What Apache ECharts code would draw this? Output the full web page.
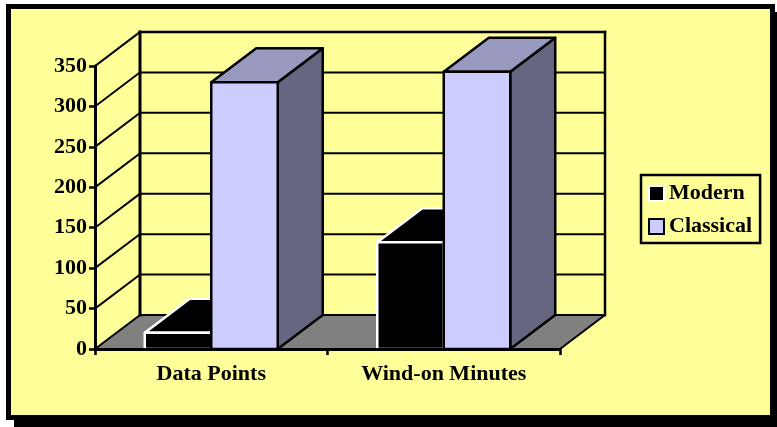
<!DOCTYPE html>
<html>
<head>
<meta charset="utf-8">
<style>html,body{margin:0;padding:0;background:#fff}#chart{width:777px;height:427px}</style>
<script src="https://cdn.jsdelivr.net/npm/echarts@6/dist/echarts.min.js"></script>
</head>
<body>
<div id="chart"></div>
<script>
const categories = ['Data Points', 'Wind-on Minutes'];
const modern = [20, 132];
const classical = [330, 343];
const gridValues = [50, 100, 150, 200, 250, 300, 350];

// Oblique projection of the chart's depth, in pixels
const DEPTH_X = 45;
const DEPTH_Y = -34;
const BAR_BAND = 0.286;

const INK = '#000';
const PAPER = '#FFFF99';
const serif = '"Liberation Serif", "Times New Roman", serif';

const chart = echarts.init(document.getElementById('chart'));

function line(x1, y1, x2, y2, width) {
  return {
    type: 'line',
    shape: { x1, y1, x2, y2 },
    style: { stroke: INK, lineWidth: width, lineCap: 'square' }
  };
}

function poly(points, fill, stroke, width) {
  return {
    type: 'polygon',
    shape: { points },
    style: { fill, stroke, lineWidth: width, lineJoin: 'round' }
  };
}

// Floor plus the outline of the back wall, drawn once
function renderRoom(params, api) {
  const g = params.coordSys;
  const l = g.x, r = g.x + g.width, t = g.y, b = g.y + g.height;
  return {
    type: 'group',
    children: [
      poly([[l, b], [r, b], [r + DEPTH_X, b + DEPTH_Y], [l + DEPTH_X, b + DEPTH_Y]], '#808080', INK, 2),
      line(l + DEPTH_X, t + DEPTH_Y, l + DEPTH_X, b + DEPTH_Y, 3),
      line(r + DEPTH_X, t + DEPTH_Y, r + DEPTH_X, b + DEPTH_Y, 2.5),
      line(l + DEPTH_X, t + DEPTH_Y, r + DEPTH_X, t + DEPTH_Y, 2.5)
    ]
  };
}

// One gridline: diagonal on the side wall, then across the back wall
function renderGridline(params, api) {
  const g = params.coordSys;
  const y = api.coord([0, api.value(1)])[1];
  const l = g.x, r = g.x + g.width;
  return {
    type: 'group',
    children: [
      line(l, y, l + DEPTH_X, y + DEPTH_Y, 2),
      line(l + DEPTH_X, y + DEPTH_Y, r + DEPTH_X, y + DEPTH_Y, 2)
    ]
  };
}

// A bar with front, top and side faces; offset is its slot within the category
function renderBar(offset, front, top, side, stroke, width) {
  return function (params, api) {
    const base = api.coord([api.value(0), 0]);
    const peak = api.coord([api.value(0), api.value(1)]);
    const w = api.size([1, 0])[0] * BAR_BAND;
    const x0 = base[0] + offset * w;
    const x1 = x0 + w;
    const y0 = base[1];
    const y1 = peak[1];
    return {
      type: 'group',
      children: [
        poly([[x1, y0], [x1 + DEPTH_X, y0 + DEPTH_Y], [x1 + DEPTH_X, y1 + DEPTH_Y], [x1, y1]], side, stroke, width),
        poly([[x0, y1], [x1, y1], [x1 + DEPTH_X, y1 + DEPTH_Y], [x0 + DEPTH_X, y1 + DEPTH_Y]], top, stroke, width),
        poly([[x0, y0], [x1, y0], [x1, y1], [x0, y1]], front, stroke, width)
      ]
    };
  };
}

chart.setOption({
  animation: false,
  backgroundColor: '#fff',
  graphic: [
    { type: 'rect', z: -3, shape: { x: 14, y: 12, width: 763, height: 415 }, style: { fill: INK } },
    { type: 'rect', z: -2, shape: { x: 6, y: 4, width: 769, height: 416 }, style: { fill: INK } },
    { type: 'rect', z: -1, shape: { x: 11, y: 9, width: 759, height: 406 }, style: { fill: PAPER } }
  ],
  grid: { left: 95, top: 66, width: 465, height: 283, containLabel: false },
  legend: {
    left: 641,
    top: 175,
    orient: 'vertical',
    padding: [6, 8, 4, 7],
    itemGap: 8,
    itemWidth: 15,
    itemHeight: 15,
    backgroundColor: PAPER,
    borderColor: INK,
    borderWidth: 2.5,
    borderRadius: 0,
    selectedMode: false,
    textStyle: { fontFamily: serif, fontWeight: 'bold', fontSize: 22, color: INK, lineHeight: 22, padding: [3, 0, 0, 0] },
    data: [
      { name: 'Modern', icon: 'rect', itemStyle: { color: INK, borderColor: '#fff', borderWidth: 2 } },
      { name: 'Classical', icon: 'rect', itemStyle: { color: '#CCCCFF', borderColor: INK, borderWidth: 2 } }
    ]
  },
  xAxis: {
    type: 'category',
    data: categories,
    z: 10,
    axisLine: { lineStyle: { color: INK, width: 3 } },
    axisTick: { show: true, length: 6, lineStyle: { color: INK, width: 2.5 } },
    axisLabel: { margin: 14, fontFamily: serif, fontWeight: 'bold', fontSize: 22, color: INK },
    splitLine: { show: false }
  },
  yAxis: {
    type: 'value',
    min: 0,
    max: 350,
    interval: 50,
    z: 10,
    axisLine: { show: true, lineStyle: { color: INK, width: 3 } },
    axisTick: { show: true, length: 6, lineStyle: { color: INK, width: 2.5 } },
    axisLabel: { margin: 8, padding: [5, 0, 0, 0], fontFamily: serif, fontWeight: 'bold', fontSize: 22, color: INK },
    splitLine: { show: false }
  },
  series: [
    {
      type: 'custom',
      name: 'room',
      coordinateSystem: 'cartesian2d',
      clip: false,
      silent: true,
      z: 1,
      data: [[0, 0]],
      renderItem: renderRoom
    },
    {
      type: 'custom',
      name: 'gridlines',
      coordinateSystem: 'cartesian2d',
      clip: false,
      silent: true,
      z: 2,
      data: gridValues.map(v => [0, v]),
      renderItem: renderGridline
    },
    {
      type: 'custom',
      name: 'Modern',
      coordinateSystem: 'cartesian2d',
      clip: false,
      z: 3,
      itemStyle: { color: INK },
      data: modern.map((v, i) => [i, v]),
      renderItem: renderBar(-1, INK, INK, INK, '#fff', 2.5)
    },
    {
      type: 'custom',
      name: 'Classical',
      coordinateSystem: 'cartesian2d',
      clip: false,
      z: 4,
      itemStyle: { color: '#CCCCFF' },
      data: classical.map((v, i) => [i, v]),
      renderItem: renderBar(0, '#CCCCFF', '#9999BF', '#666680', INK, 2.5)
    }
  ]
});
</script>
</body>
</html>
